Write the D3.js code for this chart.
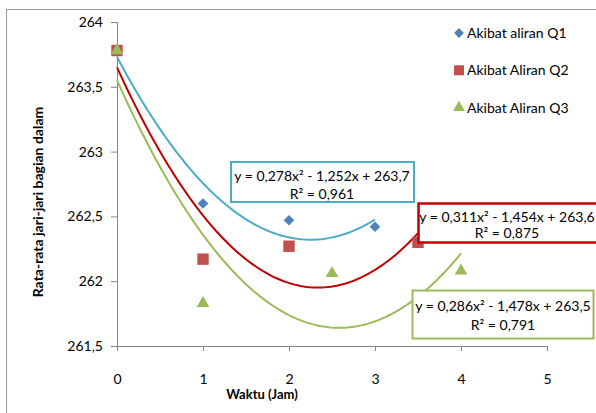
<!DOCTYPE html>
<html>
<head>
<meta charset="utf-8">
<script src="https://cdn.jsdelivr.net/npm/d3@7"></script>
<style>
  body { margin: 0; background: #fff; }
  text { font-family: Lato, "Open Sans", sans-serif; fill: #000; }
</style>
</head>
<body>
<script>
// data
var seriesNames = ["Akibat aliran Q1", "Akibat Aliran Q2", "Akibat Aliran Q3"];
var q1 = [[0, 263.78], [1, 262.6], [2, 262.47], [3, 262.42]];
var q2 = [[0, 263.78], [1, 262.17], [2, 262.27], [3.5, 262.3]];
var q3 = [[0, 263.78], [1, 261.83], [2.5, 262.06], [4, 262.08]];
// trendline coefficients a, b, c  (y = a x^2 + b x + c)
var fit1 = [0.278, -1.252, 263.73];
var fit2 = [0.311, -1.454, 263.65];
var fit3 = [0.286, -1.478, 263.55];
var eqLabels = [
  ["y = 0,278x² - 1,252x + 263,7", "R² = 0,961"],
  ["y = 0,311x² - 1,454x + 263,6", "R² = 0,875"],
  ["y = 0,286x² - 1,478x + 263,5", "R² = 0,791"]
];
var xTicks = [0, 1, 2, 3, 4, 5];
var yTicks = [261.5, 262, 262.5, 263, 263.5, 264];

var w = 596, h = 413;
var markerColors = ["#4F81BD", "#C0504D", "#9BBB59"];
var lineColors = ["#4BACC6", "#C00000", "#9BBB59"];
var axisColor = "#868686";

var svg = d3.select("body")
  .append("svg")
  .attr("width", w)
  .attr("height", h);

// chart border
svg.append("rect")
  .attr("x", 6.5)
  .attr("y", 9.5)
  .attr("width", 620)
  .attr("height", 430)
  .attr("fill", "none")
  .attr("stroke", "#9a9a9a");

var x = d3.scaleLinear().domain([0, 5]).range([117, 547]);
var y = d3.scaleLinear().domain([261.5, 264]).range([346, 22]);

var fmt = function(d) { return String(d).replace(".", ","); };

// axes
var yAxis = svg.append("g")
  .attr("transform", "translate(" + x(0) + ",0)")
  .call(d3.axisLeft(y).tickValues(yTicks).tickFormat(fmt).tickSize(6).tickPadding(8));
var xAxis = svg.append("g")
  .attr("transform", "translate(0," + y(261.5) + ")")
  .call(d3.axisBottom(x).tickValues(xTicks).tickFormat(fmt).tickSize(5).tickPadding(23));

[yAxis, xAxis].forEach(function(g) {
  g.selectAll("path, line").attr("stroke", axisColor);
  g.selectAll("text")
    .attr("font-size", 14)
    .attr("font-family", "Lato, 'Open Sans', sans-serif")
    .attr("fill", "#000");
});

// axis titles
svg.append("text")
  .attr("x", 262)
  .attr("y", 399)
  .attr("text-anchor", "middle")
  .attr("font-size", 13)
  .attr("font-weight", "bold")
  .text("Waktu (Jam)");

svg.append("text")
  .attr("transform", "translate(43,202) rotate(-90)")
  .attr("text-anchor", "middle")
  .attr("font-size", 14)
  .attr("font-weight", "bold")
  .text("Rata-rata jari-jari bagian dalam");

// trendlines
var fits = [fit1, fit2, fit3];
var series = [q1, q2, q3];
var line = d3.line()
  .x(function(d) { return x(d[0]); })
  .y(function(d) { return y(d[1]); });

fits.forEach(function(f, i) {
  var xs = d3.extent(series[i], function(d) { return d[0]; });
  var pts = d3.range(0, 101).map(function(k) {
    var t = xs[0] + (xs[1] - xs[0]) * k / 100;
    return [t, f[0] * t * t + f[1] * t + f[2]];
  });
  svg.append("path")
    .datum(pts)
    .attr("d", line)
    .attr("fill", "none")
    .attr("stroke", lineColors[i])
    .attr("stroke-width", 2);
});

// markers (diamond = square turned 45 degrees)
var symbols = [d3.symbolSquare, d3.symbolSquare, d3.symbolTriangle];
var sizes = [56, 130, 70];
var turn = ["rotate(45)", "", ""];
series.forEach(function(s, i) {
  svg.selectAll(".m" + i)
    .data(s)
    .enter()
    .append("path")
    .attr("class", "m" + i)
    .attr("d", d3.symbol().type(symbols[i]).size(sizes[i]))
    .attr("transform", function(d) {
      return "translate(" + x(d[0]) + "," + y(d[1]) + ")" + turn[i];
    })
    .attr("fill", markerColors[i]);
});

// equation boxes
var boxes = [
  { x: 231, y: 162, w: 183, h: 40, cx: 322, b1: 181, b2: 199 },
  { x: 418.5, y: 203.5, w: 200, h: 39, cx: 507, b1: 222, b2: 238 },
  { x: 412.5, y: 290.5, w: 181, h: 48, cx: 503, b1: 311, b2: 330 }
];
boxes.forEach(function(b, i) {
  svg.append("rect")
    .attr("x", b.x)
    .attr("y", b.y)
    .attr("width", b.w)
    .attr("height", b.h)
    .attr("fill", "#fff")
    .attr("stroke", lineColors[i])
    .attr("stroke-width", i == 1 ? 2.5 : 2);
  svg.append("text")
    .attr("x", b.cx)
    .attr("y", b.b1)
    .attr("text-anchor", "middle")
    .attr("font-size", 14)
    .text(eqLabels[i][0]);
  svg.append("text")
    .attr("x", b.cx)
    .attr("y", b.b2)
    .attr("text-anchor", "middle")
    .attr("font-size", 14)
    .text(eqLabels[i][1]);
});

// legend
var legend = svg.selectAll(".legend")
  .data(seriesNames)
  .enter()
  .append("g")
  .attr("class", "legend")
  .attr("transform", function(d, i) { return "translate(459," + (33 + i * 37.3) + ")"; });

legend.append("path")
  .attr("d", function(d, i) { return d3.symbol().type(symbols[i]).size([48, 100, 60][i])(); })
  .attr("transform", function(d, i) { return turn[i]; })
  .attr("fill", function(d, i) { return markerColors[i]; });

legend.append("text")
  .attr("x", 8)
  .attr("y", 5)
  .attr("font-size", 14)
  .text(function(d) { return d; });
</script>
</body>
</html>
